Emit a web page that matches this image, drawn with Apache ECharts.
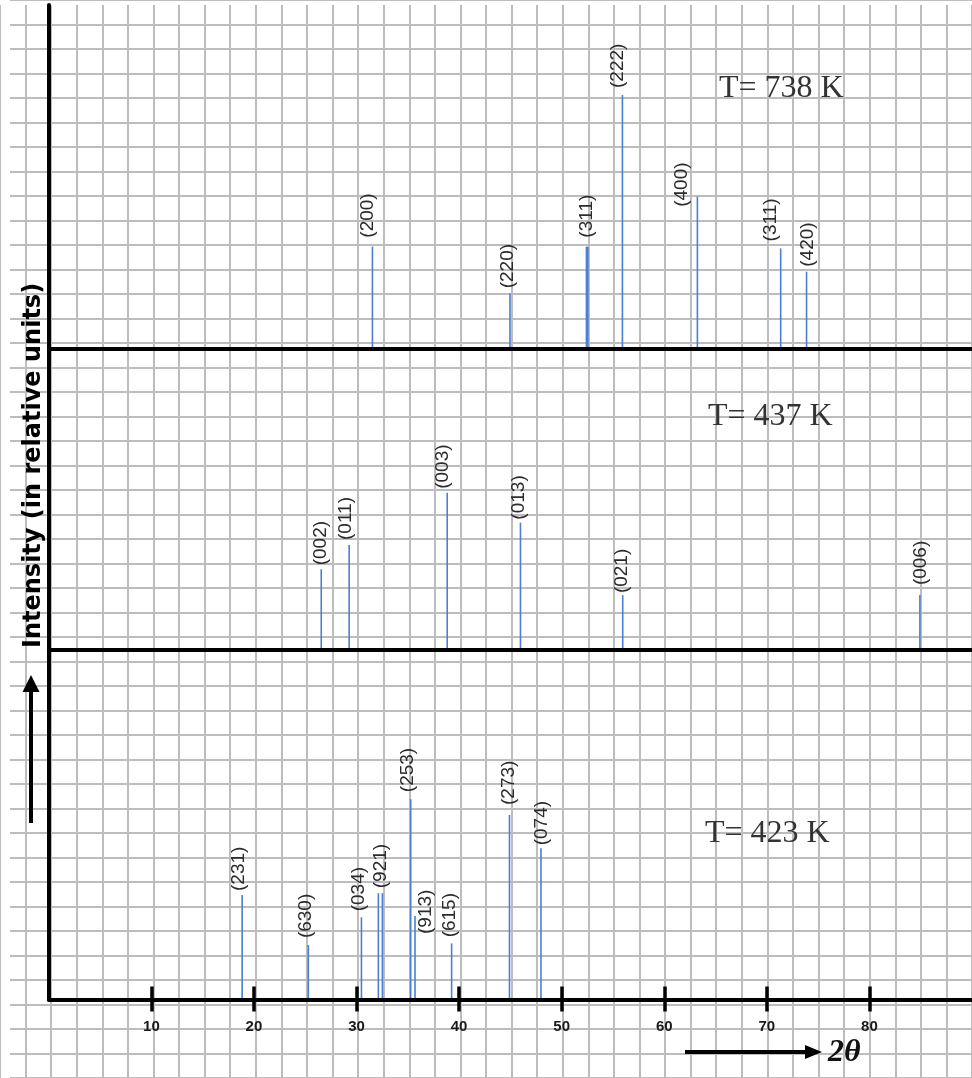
<!DOCTYPE html>
<html>
<head>
<meta charset="utf-8">
<script src="https://cdn.jsdelivr.net/npm/echarts@6/dist/echarts.min.js"></script>
<style>
html,body{margin:0;padding:0;background:#ffffff;}
#chart{width:972px;height:1078px;}
</style>
</head>
<body>
<div id="chart"></div>
<script>
// ---------------- DATA ----------------
// T = 738 K
const hkl738 = ['(200)', '(220)', '(311)', '(222)', '(400)', '(311)', '(420)'];
const twoTheta738 = [31.55, 44.96, 52.48, 55.92, 63.23, 71.35, 73.87];
const intensity738 = [4.07, 2.21, 4.07, 10.12, 6.06, 4.0, 3.07];

// T = 437 K
const hkl437 = ['(002)', '(011)', '(003)', '(013)', '(021)', '(006)'];
const twoTheta437 = [26.56, 29.28, 38.84, 45.98, 55.95, 84.92];
const intensity437 = [3.2, 4.17, 6.25, 5.06, 2.17, 2.17];

// T = 423 K
const hkl423 = ['(231)', '(630)', '(034)', '', '(921)', '(253)', '(913)', '(615)', '(273)', '(074)'];
const twoTheta423 = [18.85, 25.3, 30.48, 32.13, 32.52, 35.28, 35.7, 39.27, 44.91, 47.98];
const intensity423 = [4.17, 2.17, 3.28, 4.24, 4.24, 7.99, 3.33, 2.24, 7.36, 6.03];

const xTickValues = [10, 20, 30, 40, 50, 60, 70, 80];
const tempLabels = ['T= 738 K', 'T= 437 K', 'T= 423 K'];
const yTitle = 'Intensity (in relative units)';
const xTitle = '2\u03B8';

// ---------------- LAYOUT / STYLE ----------------
const W = 972, H = 1078;
const PLOT_LEFT = 48.8, PLOT_RIGHT = -2.5;
const CELL = 25.07;               // pixels per intensity unit (one grid square)
const BLUE = '#4a7fd4';
const PAPER = '#bdbdbd';

// label nudges [dx px, gap px above line top]
const nudge738 = [[-5, 9], [-2, 5], [0, 9], [-5, 7], [-16, -10], [-10, 7], [1, 5]];
const nudge437 = [[0, 4], [-3, 5], [-4, 4], [-2, 3], [-1, 2], [1, 10]];
const nudge423 = [[-3, 4], [-3, 7], [-3, 6], null, [-2, 5], [-3, 7], [11, -18], [-2, 6], [-1, 10], [1, 3]];
const thick738 = [false, false, true, false, false, false, false];

const panelDefs = [
  { base: 348.7, topPx: 5, xs: twoTheta738, ys: intensity738, hkl: hkl738, nudge: nudge738, thick: thick738 },
  { base: 649.5, topPx: 352, xs: twoTheta437, ys: intensity437, hkl: hkl437, nudge: nudge437, thick: [] },
  { base: 999.5, topPx: 5, xs: twoTheta423, ys: intensity423, hkl: hkl423, nudge: nudge423, thick: [] }
];

function makeRender(def) {
  return function (params, api) {
    const i = params.dataIndex;
    const p0 = api.coord([api.value(0), 0]);
    const p1 = api.coord([api.value(0), api.value(1)]);
    const children = [{
      type: 'line',
      shape: { x1: p0[0], y1: p0[1], x2: p1[0], y2: p1[1] },
      style: { stroke: BLUE, lineWidth: def.thick[i] ? 3 : 1.6 }
    }];
    const txt = def.hkl[i];
    if (txt) {
      const n = def.nudge[i] || [-2, 6];
      children.push({
        type: 'text',
        x: p1[0] + n[0],
        y: p1[1] - n[1],
        rotation: Math.PI / 2,
        style: {
          text: txt,
          fill: '#2b2b2b',
          font: '19px "Liberation Sans", Arial, sans-serif',
          align: 'left',
          verticalAlign: 'middle'
        }
      });
    }
    return { type: 'group', children: children };
  };
}

const grids = [
  { left: -2.6, right: -2.5, top: 5, bottom: 0 },            // vertical paper lines
  { left: 10, right: 0, top: -4.4, bottom: -20.7 }           // horizontal paper lines
];
const xAxes = [
  { gridIndex: 0, type: 'value', min: -5, max: 90, interval: 2.5, z: 0,
    axisLine: { show: false }, axisTick: { show: false }, axisLabel: { show: false },
    splitLine: { show: true, lineStyle: { color: PAPER, width: 2 } } },
  { gridIndex: 1, type: 'value', min: 0, max: 1, show: false }
];
const yAxes = [
  { gridIndex: 0, type: 'value', min: 0, max: 1, show: false },
  { gridIndex: 1, type: 'value', min: -4, max: 40, interval: 1, z: 0,
    axisLine: { show: false }, axisTick: { show: false }, axisLabel: { show: false },
    splitLine: { show: true, lineStyle: { color: PAPER, width: 2 } } }
];
const series = [];

panelDefs.forEach(function (def, k) {
  const gi = grids.length;
  const ymax = (def.base - def.topPx) / CELL;
  grids.push({ left: PLOT_LEFT, right: PLOT_RIGHT, top: def.topPx, bottom: H - def.base });
  const isBottom = k === panelDefs.length - 1;
  xAxes.push({
    gridIndex: gi, type: 'value', min: 0, max: 90, interval: 10, z: 5,
    axisLine: { show: true, onZero: false, lineStyle: { color: '#000', width: 4 } },
    axisTick: isBottom
      ? { show: true, customValues: xTickValues, length: 12, lineStyle: { color: '#000', width: 3.5 } }
      : { show: false },
    axisLabel: isBottom
      ? { show: true, customValues: xTickValues, margin: 20, color: '#1a1a1a',
          fontFamily: '"Liberation Sans", Arial, sans-serif', fontWeight: 'bold', fontSize: 15 }
      : { show: false },
    splitLine: { show: false }
  });
  yAxes.push({
    gridIndex: gi, type: 'value', min: 0, max: ymax, z: 5,
    axisLine: { show: isBottom, lineStyle: { color: '#000', width: 4 } },
    axisTick: { show: false }, axisLabel: { show: false }, splitLine: { show: false }
  });
  series.push({
    type: 'custom',
    xAxisIndex: gi, yAxisIndex: gi,
    z: 4,
    renderItem: makeRender(def),
    encode: { x: 0, y: 1 },
    data: def.xs.map(function (x, i) { return [x, def.ys[i]]; })
  });
});

// extra grid for the inner half of the bottom tick marks
(function () {
  const def = panelDefs[2];
  const gi = grids.length;
  grids.push({ left: PLOT_LEFT, right: PLOT_RIGHT, top: def.topPx, bottom: H - def.base });
  xAxes.push({
    gridIndex: gi, type: 'value', min: 0, max: 90, interval: 10, z: 6,
    axisLine: { show: false },
    axisTick: { show: true, inside: true, customValues: xTickValues, length: 13, lineStyle: { color: '#000', width: 3.5 } },
    axisLabel: { show: false }, splitLine: { show: false }
  });
  yAxes.push({ gridIndex: gi, type: 'value', min: 0, max: 1, show: false });
})();

const tempPos = [[719, 89], [708, 417], [705, 834]];
const graphics = [
  { type: 'text', x: 33.5, y: 648, rotation: Math.PI / 2, z: 10,
    style: { text: yTitle, fill: '#000', font: 'bold 24px "DejaVu Sans", sans-serif', align: 'left', verticalAlign: 'middle' } },
  { type: 'line', z: 10, shape: { x1: 31, y1: 823, x2: 31, y2: 690 }, style: { stroke: '#000', lineWidth: 4 } },
  { type: 'polygon', z: 10, shape: { points: [[31, 675], [22.5, 692], [39.5, 692]] }, style: { fill: '#000' } },
  { type: 'line', z: 10, shape: { x1: 685, y1: 1052, x2: 808, y2: 1052 }, style: { stroke: '#000', lineWidth: 4 } },
  { type: 'polygon', z: 10, shape: { points: [[822, 1052], [805, 1045], [805, 1059]] }, style: { fill: '#000' } },
  { type: 'text', x: 828, y: 1053, z: 10,
    style: { text: xTitle, fill: '#111', font: 'italic bold 32px "Liberation Serif", serif', align: 'left', verticalAlign: 'middle' } }
];
tempLabels.forEach(function (t, i) {
  graphics.push({ type: 'text', x: tempPos[i][0], y: tempPos[i][1], z: 10,
    style: { text: t, fill: '#333', font: '32px "Liberation Serif", serif', align: 'left', verticalAlign: 'middle' } });
});

const chart = echarts.init(document.getElementById('chart'), null, { renderer: 'canvas', width: W, height: H });
chart.setOption({
  animation: false,
  backgroundColor: '#ffffff',
  grid: grids,
  xAxis: xAxes,
  yAxis: yAxes,
  series: series,
  graphic: graphics
});
</script>
</body>
</html>
